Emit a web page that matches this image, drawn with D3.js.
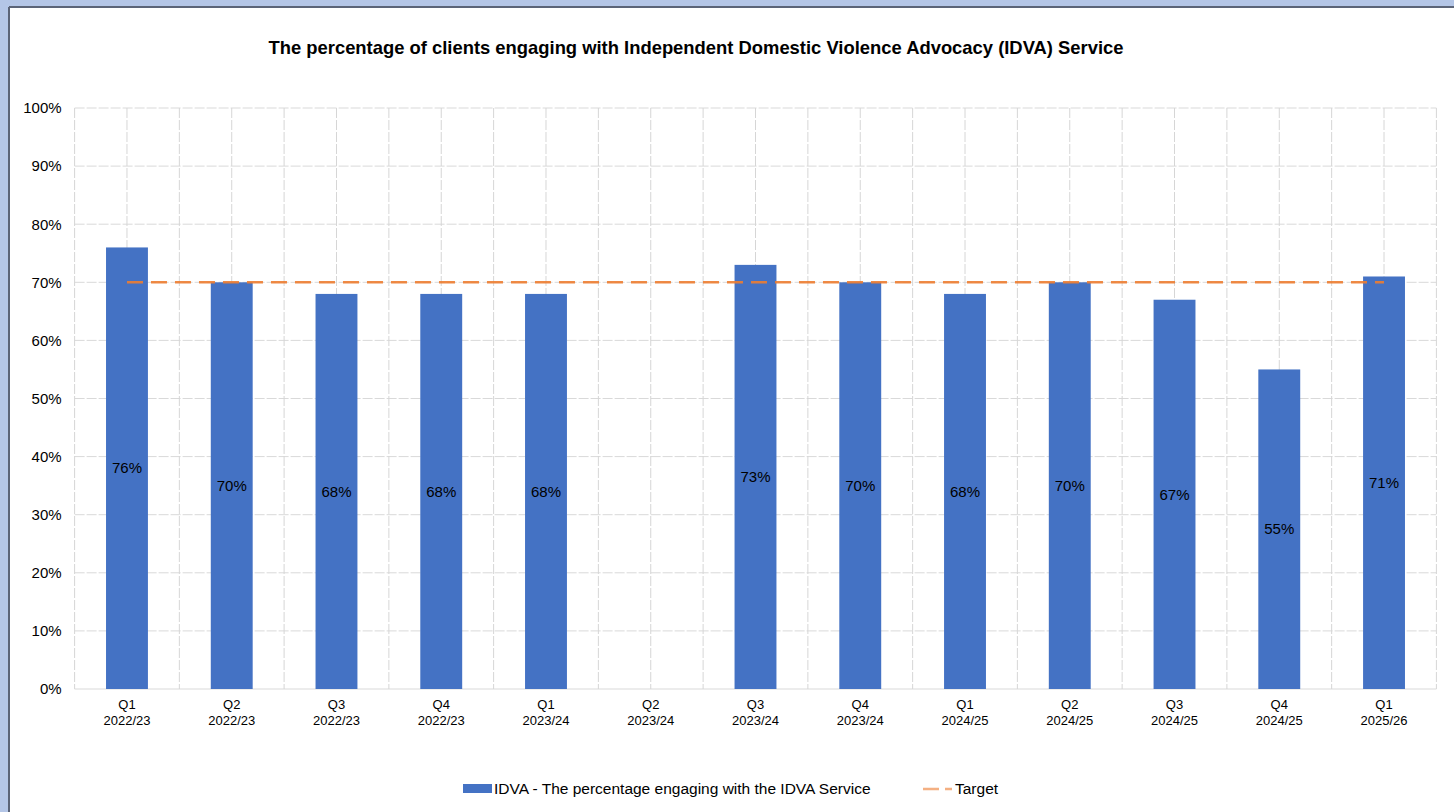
<!DOCTYPE html>
<html>
<head>
<meta charset="utf-8">
<script src="https://cdn.jsdelivr.net/npm/d3@7"></script>
<style>
  html, body { margin: 0; padding: 0; background: #b4c6e7; }
  svg { display: block; font-family: Arial, "Liberation Sans", sans-serif; }
</style>
</head>
<body>
<svg id="chart" width="1454" height="812"></svg>
<script>
// Quarterly reporting periods (two-line tick labels)
const quarters = ["Q1", "Q2", "Q3", "Q4", "Q1", "Q2", "Q3", "Q4", "Q1", "Q2", "Q3", "Q4", "Q1"];
const years = ["2022/23", "2022/23", "2022/23", "2022/23", "2023/24", "2023/24", "2023/24",
               "2023/24", "2024/25", "2024/25", "2024/25", "2024/25", "2025/26"];
// Percentage of clients engaging with the IDVA service (null = no data reported)
const engaged = [76, 70, 68, 68, 68, null, 73, 70, 68, 70, 67, 55, 71];
// Target line value for every period
const target = [70, 70, 70, 70, 70, 70, 70, 70, 70, 70, 70, 70, 70];
const yTicks = [0, 10, 20, 30, 40, 50, 60, 70, 80, 90, 100];

const titleText = "The percentage of clients engaging with Independent Domestic Violence Advocacy (IDVA) Service";
const seriesName = "IDVA - The percentage engaging with the IDVA Service";
const targetName = "Target";

const svg = d3.select("#chart");
const W = 1454, H = 812;

// Framed white panel
svg.append("rect").attr("x", 9).attr("y", 7).attr("width", W - 9).attr("height", H - 7).attr("fill", "#ffffff");
svg.append("line").attr("x1", 9).attr("x2", W).attr("y1", 7).attr("y2", 7).attr("stroke", "#5b6478").attr("stroke-width", 2);
svg.append("line").attr("x1", 9).attr("x2", 9).attr("y1", 7).attr("y2", H).attr("stroke", "#5b6478").attr("stroke-width", 2);

const plot = { left: 74.6, right: 1436.4, top: 108, bottom: 689 };

const x = d3.scaleBand().domain(d3.range(quarters.length)).range([plot.left, plot.right]).paddingInner(0).paddingOuter(0);
const barW = x.bandwidth() * 0.4;
const y = d3.scaleLinear().domain([0, 100]).range([plot.bottom, plot.top]);

// Title
svg.append("text").attr("x", 696).attr("y", 54).attr("text-anchor", "middle")
  .attr("font-size", 18.4).attr("font-weight", "bold").attr("fill", "#000").text(titleText);

// Horizontal gridlines
svg.append("g").selectAll("line").data(yTicks).join("line")
  .attr("x1", plot.left).attr("x2", plot.right)
  .attr("y1", d => y(d)).attr("y2", d => y(d))
  .attr("stroke", "#d9d9d9").attr("stroke-width", 1).attr("stroke-dasharray", d => d === 0 ? null : "10,2");

// Vertical gridlines at category boundaries and centres
const vLines = [];
for (let i = 0; i <= quarters.length; i++) vLines.push(x.step() * i + plot.left);
for (let i = 0; i < quarters.length; i++) vLines.push(x(i) + x.bandwidth() / 2);
svg.append("g").selectAll("line").data(vLines).join("line")
  .attr("x1", d => d).attr("x2", d => d)
  .attr("y1", plot.top).attr("y2", plot.bottom)
  .attr("stroke", "#d6d6d6").attr("stroke-width", 1).attr("stroke-dasharray", "10,2");

// Y axis labels
const yAxis = d3.axisLeft(y).tickValues(yTicks).tickFormat(d => d + "%").tickSize(0).tickPadding(0);
const yG = svg.append("g").attr("transform", `translate(${plot.left - 13},0)`).call(yAxis);
yG.select(".domain").remove();
yG.selectAll("text").attr("font-size", 15).attr("fill", "#000").attr("font-family", "Arial, 'Liberation Sans', sans-serif");

// X axis labels (two lines)
const xAxis = d3.axisBottom(x).tickSize(0).tickFormat(() => "");
const xG = svg.append("g").attr("transform", `translate(0,${plot.bottom})`).call(xAxis);
xG.select(".domain").remove();
xG.selectAll(".tick").each(function(d) {
  const t = d3.select(this).append("text").attr("text-anchor", "middle")
    .attr("font-size", 13).attr("fill", "#000");
  t.append("tspan").attr("x", 0).attr("y", 20).text(quarters[d]);
  t.append("tspan").attr("x", 0).attr("y", 36).text(years[d]);
});

// Bars
const rows = engaged.map((v, i) => ({ i, v })).filter(d => d.v !== null);
svg.append("g").selectAll("rect").data(rows).join("rect")
  .attr("x", d => x(d.i) + (x.bandwidth() - barW) / 2)
  .attr("width", barW)
  .attr("y", d => y(d.v))
  .attr("height", d => y(0) - y(d.v))
  .attr("fill", "#4472c4");

// Target line
const line = d3.line().x((d, i) => x(i) + x.bandwidth() / 2).y(d => y(d));
svg.append("path").datum(target).attr("d", line)
  .attr("fill", "none").attr("stroke", "#ed7d31").attr("stroke-width", 2.5)
  .attr("stroke-dasharray", "16,8").attr("opacity", 0.9);

// Value labels centred in bars
svg.append("g").selectAll("text").data(rows).join("text")
  .attr("x", d => x(d.i) + x.bandwidth() / 2)
  .attr("y", d => (y(d.v) + y(0)) / 2)
  .attr("dy", "0.35em").attr("text-anchor", "middle")
  .attr("font-size", 15).attr("fill", "#000")
  .text(d => d.v + "%");

// Legend
const lg = svg.append("g");
lg.append("rect").attr("x", 463).attr("y", 784).attr("width", 29).attr("height", 9).attr("fill", "#4472c4");
lg.append("text").attr("x", 494).attr("y", 789).attr("dy", "0.35em").attr("font-size", 15.5).attr("fill", "#000").text(seriesName);
lg.append("line").attr("x1", 923).attr("x2", 952).attr("y1", 789).attr("y2", 789)
  .attr("stroke", "#ed7d31").attr("stroke-width", 2.5).attr("stroke-dasharray", "16,6").attr("opacity", 0.6);
lg.append("text").attr("x", 955).attr("y", 789).attr("dy", "0.35em").attr("font-size", 15.5).attr("fill", "#000").text(targetName);
</script>
</body>
</html>
